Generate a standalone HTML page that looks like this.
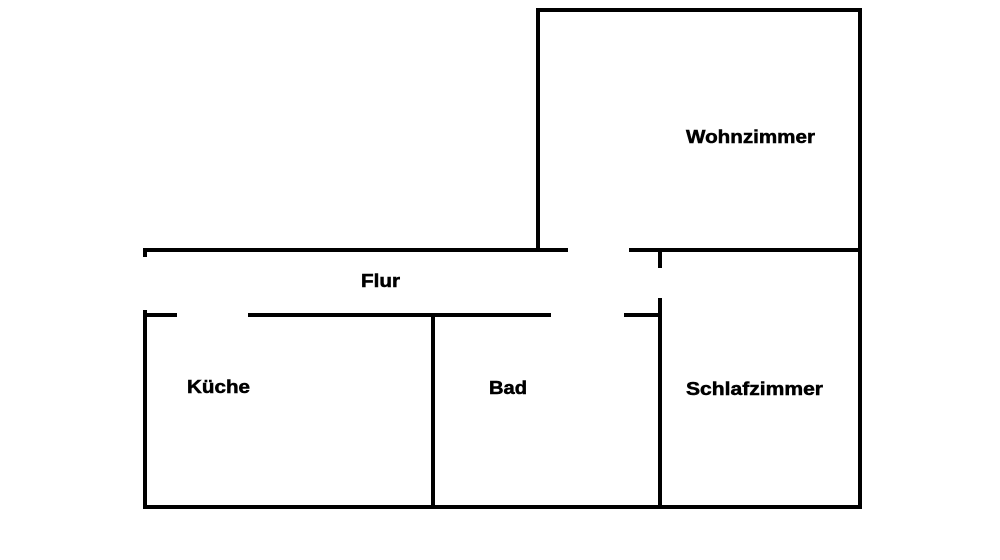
<!DOCTYPE html>
<html><head><meta charset="utf-8"><style>
html,body{margin:0;padding:0;background:#fff;}
svg{display:block}
text{font-family:"Liberation Sans",Arial,sans-serif;font-weight:bold;font-size:18px;fill:#000;stroke:#000;stroke-width:0.5}
</style></head><body>
<svg width="1000" height="560" viewBox="0 0 1000 560" xmlns="http://www.w3.org/2000/svg">
<g stroke="#000" stroke-width="4" fill="none" stroke-linecap="butt">
<polyline points="538,250 538,10 860,10 860,509"/>
<line x1="143" y1="250" x2="568" y2="250"/>
<line x1="629" y1="250" x2="862" y2="250"/>
<line x1="145" y1="248" x2="145" y2="257"/>
<line x1="660" y1="250" x2="660" y2="268"/>
<line x1="143" y1="315" x2="177" y2="315"/>
<line x1="248" y1="315" x2="551" y2="315"/>
<line x1="624" y1="315" x2="660" y2="315"/>
<line x1="145" y1="310" x2="145" y2="509"/>
<line x1="433" y1="315" x2="433" y2="509"/>
<line x1="660" y1="298" x2="660" y2="509"/>
<line x1="143" y1="507" x2="862" y2="507"/>
</g>
<text x="686" y="143" textLength="129" lengthAdjust="spacingAndGlyphs">Wohnzimmer</text>
<text x="361" y="287" textLength="39" lengthAdjust="spacingAndGlyphs">Flur</text>
<text x="187" y="393" textLength="63" lengthAdjust="spacingAndGlyphs">Küche</text>
<text x="489" y="394" textLength="38" lengthAdjust="spacingAndGlyphs">Bad</text>
<text x="686" y="395" textLength="137" lengthAdjust="spacingAndGlyphs">Schlafzimmer</text>
</svg>
</body></html>
